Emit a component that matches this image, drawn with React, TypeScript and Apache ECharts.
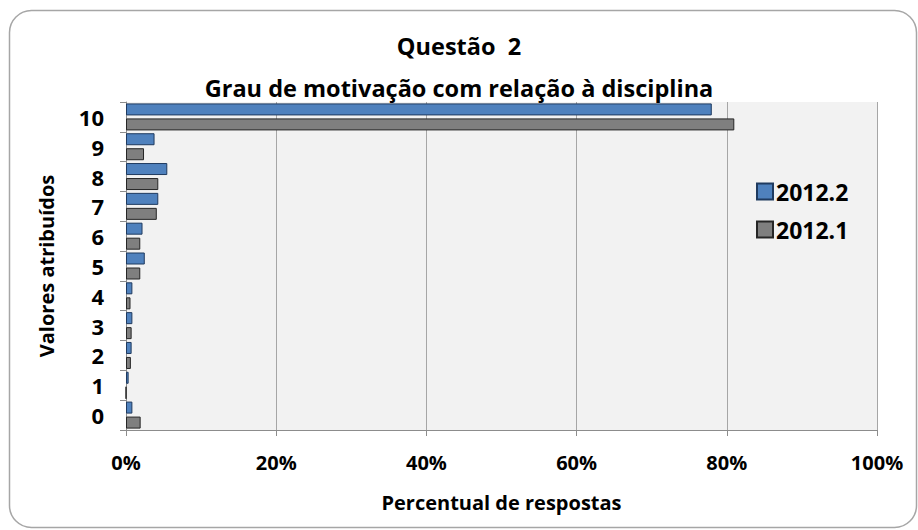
import React, { useEffect, useRef } from "react";
import * as echarts from "echarts";

const categories = ["0", "1", "2", "3", "4", "5", "6", "7", "8", "9", "10"];
const serie2012_2 = [0.85, 0.35, 0.75, 0.85, 0.85, 2.5, 2.2, 4.3, 5.5, 3.8, 78];
const serie2012_1 = [1.95, 0, 0.65, 0.75, 0.6, 1.9, 1.9, 4.1, 4.3, 2.4, 81];
const seriesNames = ["2012.2", "2012.1"];
const titleLine1 = "Questão  2";
const titleLine2 = "Grau de motivação com relação à disciplina";
const xAxisName = "Percentual de respostas";
const yAxisName = "Valores atribuídos";

const FONT = "'Open Sans', 'DejaVu Sans', sans-serif";

export default function App() {
  const ref = useRef<HTMLDivElement>(null);
  useEffect(() => {
    document.body.style.margin = "0";
    document.body.style.background = "#ffffff";
    const chart = echarts.init(ref.current!, null, { renderer: "svg" });
    chart.setOption({
      animation: false,
      backgroundColor: "#ffffff",
      textStyle: { fontFamily: FONT },
      graphic: [
        {
          type: "rect",
          shape: { x: 9.5, y: 10.5, width: 907, height: 517, r: 22 },
          style: { fill: "none", stroke: "#a6a6a6", lineWidth: 1.5 },
          z: -10,
        },
      ],
      title: [
        {
          text: titleLine1,
          left: "center",
          top: 34,
          padding: 0,
          textStyle: { fontFamily: FONT, fontSize: 23.5, fontWeight: "bold", color: "#000" },
        },
        {
          text: titleLine2,
          left: "center",
          top: 76,
          padding: 0,
          textStyle: { fontFamily: FONT, fontSize: 23.5, fontWeight: "bold", color: "#000" },
        },
      ],
      legend: {
        orient: "vertical",
        left: 756,
        top: 180,
        itemWidth: 16,
        itemHeight: 16,
        itemGap: 15,
        icon: "rect",
        padding: 0,
        textStyle: { fontFamily: FONT, fontSize: 23, fontWeight: "bold", color: "#000", padding: [0, 0, 0, -2] },
        data: seriesNames,
      },
      grid: {
        left: 126,
        right: 41,
        top: 102,
        bottom: 100,
        show: true,
        backgroundColor: "#f2f2f2",
        borderWidth: 0,
      },
      xAxis: {
        type: "value",
        min: 0,
        max: 100,
        interval: 20,
        name: xAxisName,
        nameLocation: "middle",
        nameGap: 62,
        nameTextStyle: { fontFamily: FONT, fontSize: 20, fontWeight: "bold", color: "#000" },
        axisLine: { show: true, lineStyle: { color: "#8c8c8c", width: 1 } },
        axisTick: { show: true, length: 6, lineStyle: { color: "#8c8c8c" } },
        axisLabel: {
          margin: 22,
          formatter: "{value}%",
          fontFamily: FONT,
          fontSize: 20,
          fontWeight: "bold",
          color: "#000",
        },
        splitLine: { show: true, lineStyle: { color: "#a6a6a6", width: 1 } },
      },
      yAxis: {
        type: "category",
        data: categories,
        name: yAxisName,
        nameLocation: "middle",
        nameRotate: 90,
        nameGap: 70,
        nameTextStyle: { fontFamily: FONT, fontSize: 20, fontWeight: "bold", color: "#000" },
        axisLine: { show: true, lineStyle: { color: "#8c8c8c", width: 1 } },
        axisTick: { show: true, length: 6, lineStyle: { color: "#8c8c8c" } },
        axisLabel: {
          margin: 22,
          fontFamily: FONT,
          fontSize: 22,
          fontWeight: "bold",
          color: "#000",
        },
        splitLine: { show: false },
      },
      series: [
        {
          name: seriesNames[0],
          type: "bar",
          data: serie2012_2,
          barWidth: 12,
          barGap: "25%",
          itemStyle: { color: "#4f81bd", borderColor: "#1f3a5f", borderWidth: 1 },
        },
        {
          name: seriesNames[1],
          type: "bar",
          data: serie2012_1,
          barWidth: 12,
          barGap: "25%",
          itemStyle: { color: "#7f7f7f", borderColor: "#262626", borderWidth: 1 },
        },
      ],
    });
    return () => chart.dispose();
  }, []);
  return <div ref={ref} style={{ width: 918, height: 530 }} />;
}
